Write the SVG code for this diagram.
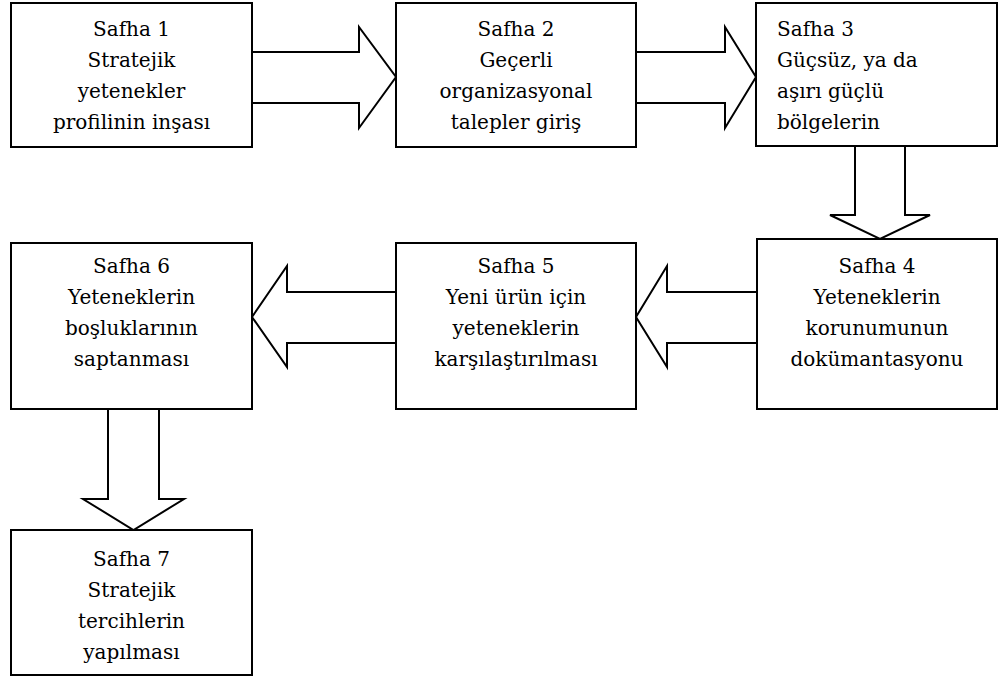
<svg xmlns="http://www.w3.org/2000/svg" width="1003" height="678" viewBox="0 0 1003 678">
  <style>
    .box { fill: #ffffff; stroke: #000000; stroke-width: 2; }
    .arrow { fill: #ffffff; stroke: #000000; stroke-width: 2; stroke-linejoin: miter; }
    text { font-family: DejaVu Serif, serif; font-size: 20px; fill: #000000; }
    .mid { text-anchor: middle; }
    .left { text-anchor: start; }
  </style>
  <rect width="1003" height="678" fill="#ffffff"/>

  <!-- block arrows between phases -->
  <g id="connectors">
    <polygon class="arrow" points="252,52 359,52 359,27 396,77 359,128 359,103 252,103"/>
    <polygon class="arrow" points="636,52 725,52 725,27 756,77 725,128 725,103 636,103"/>
    <polygon class="arrow" points="855,146 855,215 830,215 880,239 930,215 905,215 905,146"/>
    <polygon class="arrow" points="757,292 667,292 667,266 636,317 667,367 667,343 757,343"/>
    <polygon class="arrow" points="396,292 287,292 287,266 252,317 287,367 287,343 396,343"/>
    <polygon class="arrow" points="108,409 108,499 83,499 133.5,530 184,499 159,499 159,409"/>
  </g>

  <g id="phase1">
    <rect class="box" x="11" y="3" width="241" height="144"/>
    <text class="mid" x="131.5" y="36">Safha 1</text>
    <text class="mid" x="131.5" y="67">Stratejik</text>
    <text class="mid" x="131.5" y="98">yetenekler</text>
    <text class="mid" x="131.5" y="129">profilinin inşası</text>
  </g>

  <g id="phase2">
    <rect class="box" x="396" y="3" width="240" height="144"/>
    <text class="mid" x="516" y="36">Safha 2</text>
    <text class="mid" x="516" y="67">Geçerli</text>
    <text class="mid" x="516" y="98">organizasyonal</text>
    <text class="mid" x="516" y="129">talepler giriş</text>
  </g>

  <g id="phase3">
    <rect class="box" x="756" y="3" width="241" height="143"/>
    <text class="left" x="777" y="36">Safha 3</text>
    <text class="left" x="777" y="67">Güçsüz, ya da</text>
    <text class="left" x="777" y="98">aşırı güçlü</text>
    <text class="left" x="777" y="129">bölgelerin</text>
  </g>

  <g id="phase4">
    <rect class="box" x="757" y="239" width="240" height="170"/>
    <text class="mid" x="877" y="273">Safha 4</text>
    <text class="mid" x="877" y="304">Yeteneklerin</text>
    <text class="mid" x="877" y="335">korunumunun</text>
    <text class="mid" x="877" y="366">dokümantasyonu</text>
  </g>

  <g id="phase5">
    <rect class="box" x="396" y="243" width="240" height="166"/>
    <text class="mid" x="516" y="273">Safha 5</text>
    <text class="mid" x="516" y="304">Yeni ürün için</text>
    <text class="mid" x="516" y="335">yeteneklerin</text>
    <text class="mid" x="516" y="366">karşılaştırılması</text>
  </g>

  <g id="phase6">
    <rect class="box" x="11" y="243" width="241" height="166"/>
    <text class="mid" x="131.5" y="273">Safha 6</text>
    <text class="mid" x="131.5" y="304">Yeteneklerin</text>
    <text class="mid" x="131.5" y="335">boşluklarının</text>
    <text class="mid" x="131.5" y="366">saptanması</text>
  </g>

  <g id="phase7">
    <rect class="box" x="11" y="530" width="241" height="145"/>
    <text class="mid" x="131.5" y="566">Safha 7</text>
    <text class="mid" x="131.5" y="597">Stratejik</text>
    <text class="mid" x="131.5" y="628">tercihlerin</text>
    <text class="mid" x="131.5" y="659">yapılması</text>
  </g>
</svg>
